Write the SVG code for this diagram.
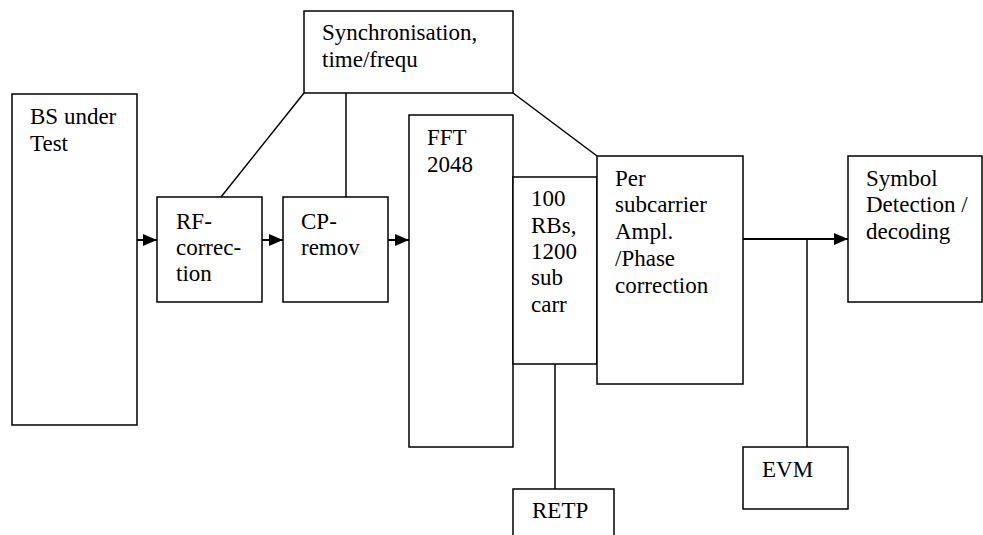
<svg xmlns="http://www.w3.org/2000/svg" width="983" height="535" viewBox="0 0 983 535">
<style>
.box{fill:#fff;stroke:#000;stroke-width:1.5}
.ln{fill:none;stroke:#000;stroke-width:1.5}
.ar{fill:none;stroke:#000;stroke-width:2;marker-end:url(#ah)}
text{font-size:23px;fill:#000}
</style>
<defs>
<marker id="ah" markerUnits="userSpaceOnUse" markerWidth="16" markerHeight="14" refX="14" refY="6" orient="auto">
<path d="M0,0 L14,6 L0,12 Z" fill="#000"/>
</marker>
</defs>
<rect width="983" height="535" fill="#fff"/>
<g id="connectors">
<line class="ar" x1="137" y1="240" x2="157" y2="240"/>
<line class="ar" x1="262" y1="240" x2="283" y2="240"/>
<line class="ar" x1="388" y1="240" x2="409" y2="240"/>
<line class="ar" x1="743" y1="239" x2="848" y2="239"/>
<line class="ln" x1="304" y1="93" x2="221" y2="197"/>
<line class="ln" x1="346" y1="93" x2="346" y2="197"/>
<line class="ln" x1="513" y1="93" x2="597" y2="156"/>
<line class="ln" x1="807" y1="239" x2="807" y2="447"/>
<line class="ln" x1="555" y1="364" x2="555" y2="489"/>
</g>
<g font-family="'Liberation Serif', 'Times New Roman', serif">
<g id="bs"><rect class="box" x="12" y="94" width="125" height="331"/><text x="30" y="124">BS under</text><text x="30" y="151">Test</text></g>
<g id="rf"><rect class="box" x="157" y="197" width="105" height="105"/><text x="176" y="229">RF-</text><text x="176" y="255">correc-</text><text x="176" y="281">tion</text></g>
<g id="cp"><rect class="box" x="283" y="197" width="105" height="105"/><text x="301" y="229">CP-</text><text x="301" y="255">remov</text></g>
<g id="sync"><rect class="box" x="304" y="11" width="209" height="82"/><text x="322" y="40">Synchronisation,</text><text x="322" y="67">time/frequ</text></g>
<g id="fft"><rect class="box" x="409" y="115" width="104" height="332"/><text x="427" y="145">FFT</text><text x="427" y="172">2048</text></g>
<g id="rbs"><rect class="box" x="513" y="177" width="84" height="187"/><text x="531" y="206">100</text><text x="531" y="233">RBs,</text><text x="531" y="259">1200</text><text x="531" y="285">sub</text><text x="531" y="312">carr</text></g>
<g id="per"><rect class="box" x="597" y="156" width="146" height="228"/><text x="615" y="186">Per</text><text x="615" y="212">subcarrier</text><text x="615" y="239">Ampl.</text><text x="615" y="266">/Phase</text><text x="615" y="293">correction</text></g>
<g id="sym"><rect class="box" x="848" y="156" width="134" height="146"/><text x="866" y="186">Symbol</text><text x="866" y="212">Detection /</text><text x="866" y="239">decoding</text></g>
<g id="evm"><rect class="box" x="743" y="447" width="105" height="62"/><text x="762" y="477">EVM</text></g>
<g id="retp"><rect class="box" x="513" y="489" width="101" height="50"/><text x="532" y="518">RETP</text></g>
</g>
</svg>
